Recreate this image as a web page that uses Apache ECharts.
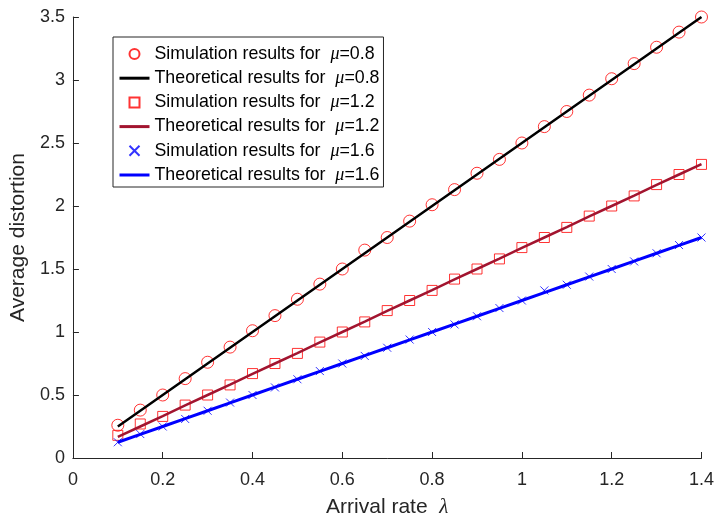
<!DOCTYPE html>
<html><head><meta charset="utf-8">
<script src="https://cdn.jsdelivr.net/npm/echarts@6/dist/echarts.min.js"></script>
<style>html,body{margin:0;padding:0;background:#fff}#c{width:717px;height:523px}</style>
</head><body><div id="c"></div>
<script>
const lambda = [0.1,0.15,0.2,0.25,0.3,0.35,0.4,0.45,0.5,0.55,0.6,0.65,0.7,0.75,0.8,0.85,0.9,0.95,1.0,1.05,1.1,1.15,1.2,1.25,1.3,1.35,1.4];
const sim08 = [0.26,0.38,0.50,0.63,0.76,0.88,1.01,1.13,1.26,1.38,1.50,1.65,1.75,1.88,2.01,2.13,2.26,2.37,2.50,2.63,2.75,2.88,3.01,3.13,3.26,3.38,3.50];
const theo08 = [0.25,0.375,0.5,0.625,0.75,0.875,1.0,1.125,1.25,1.375,1.5,1.625,1.75,1.875,2.0,2.125,2.25,2.375,2.5,2.625,2.75,2.875,3.0,3.125,3.25,3.375,3.5];
const sim12 = [0.18,0.27,0.33,0.42,0.50,0.58,0.67,0.75,0.83,0.92,1.00,1.08,1.17,1.25,1.33,1.42,1.50,1.58,1.67,1.75,1.83,1.92,2.00,2.08,2.17,2.25,2.33];
const theo12 = [0.167,0.25,0.333,0.417,0.5,0.583,0.667,0.75,0.833,0.917,1.0,1.083,1.167,1.25,1.333,1.417,1.5,1.583,1.667,1.75,1.833,1.917,2.0,2.083,2.167,2.25,2.333];
const sim16 = [0.125,0.19,0.25,0.31,0.375,0.44,0.50,0.56,0.625,0.69,0.75,0.81,0.875,0.94,1.00,1.06,1.125,1.19,1.25,1.33,1.375,1.44,1.50,1.56,1.625,1.69,1.75];
const theo16 = [0.125,0.1875,0.25,0.3125,0.375,0.4375,0.5,0.5625,0.625,0.6875,0.75,0.8125,0.875,0.9375,1.0,1.0625,1.125,1.1875,1.25,1.3125,1.375,1.4375,1.5,1.5625,1.625,1.6875,1.75];
const names = ['Simulation results for  μ=0.8','Theoretical results for  μ=0.8','Simulation results for  μ=1.2','Theoretical results for  μ=1.2','Simulation results for  μ=1.6','Theoretical results for  μ=1.6'];

const pairs = a => lambda.map((x,i)=>[x,a[i]]);
const crossPath = 'path://M0,0L10,10M10,0L0,10';
const squarePath = 'path://M0,0L10,0L10,10L0,10Z';
const axisColor = '#262626';
const font = 'Liberation Sans, Arial, sans-serif';
const serif = 'Liberation Serif, DejaVu Serif, serif';
const noSym = {color:'rgba(0,0,0,0)', borderWidth:0, borderColor:'rgba(0,0,0,0)'};

const chart = echarts.init(document.getElementById('c'), null, {renderer:'canvas'});
chart.setOption({
  animation:false,
  backgroundColor:'#fff',
  grid:{left:71,right:12,top:17,bottom:62,containLabel:false},
  legend:{
    orient:'vertical', left:113, top:37,
    backgroundColor:'#fff', borderColor:'#262626', borderWidth:1,
    padding:[8,4,3,5], itemWidth:30, itemHeight:10, itemGap:6.2,
    data:[
      {name:names[0], icon:'circle'},
      {name:names[1], itemStyle:noSym, lineStyle:{width:3}},
      {name:names[2], icon:squarePath},
      {name:names[3], itemStyle:noSym, lineStyle:{width:3}},
      {name:names[4], icon:crossPath},
      {name:names[5], itemStyle:noSym, lineStyle:{width:3}}
    ],
    textStyle:{fontFamily:font,fontSize:17.8,color:'#000',
      rich:{m:{fontFamily:serif,fontStyle:'italic',fontSize:18,color:'#000',lineHeight:18},
            t:{fontFamily:font,fontSize:17.8,color:'#000',lineHeight:18}}},
    formatter: n => { const p = n.split('μ'); return '{t|'+p[0]+'}{m|μ}{t|'+p[1]+'}'; }
  },
  xAxis:{type:'value',min:0,max:1.4,interval:0.2,
    name:'Arrival rate  {l|λ}',nameLocation:'middle',nameGap:39,
    nameTextStyle:{fontFamily:font,fontSize:21,color:axisColor,rich:{l:{fontFamily:serif,fontStyle:'italic',fontSize:21,color:axisColor}}},
    axisLine:{show:true,onZero:false,lineStyle:{color:axisColor,width:1}},
    axisTick:{show:true,inside:true,length:6,lineStyle:{color:axisColor}},
    axisLabel:{fontFamily:font,fontSize:18,color:axisColor,margin:13},
    splitLine:{show:false}},
  yAxis:{type:'value',min:0,max:3.5,interval:0.5,
    name:'Average distortion',nameLocation:'middle',nameGap:40,
    nameTextStyle:{fontFamily:font,fontSize:21,color:axisColor},
    axisLine:{show:true,onZero:false,lineStyle:{color:axisColor,width:1}},
    axisTick:{show:true,inside:true,length:6,lineStyle:{color:axisColor}},
    axisLabel:{fontFamily:font,fontSize:18,color:axisColor,margin:8},
    splitLine:{show:false}},
  series:[
    {name:names[0],type:'scatter',data:pairs(sim08),symbol:'circle',symbolSize:12,
     itemStyle:{color:'rgba(0,0,0,0)',borderColor:'#ff0000',borderWidth:1}},
    {name:names[1],type:'line',data:pairs(theo08),symbol:'none',lineStyle:{color:'#000',width:2.5},itemStyle:{color:'#000'}},
    {name:names[2],type:'scatter',data:pairs(sim12),symbol:'rect',symbolSize:10,
     itemStyle:{color:'rgba(0,0,0,0)',borderColor:'#ff0000',borderWidth:1}},
    {name:names[3],type:'line',data:pairs(theo12),symbol:'none',lineStyle:{color:'#A2142F',width:2.5},itemStyle:{color:'#A2142F'}},
    {name:names[4],type:'scatter',data:pairs(sim16),symbol:crossPath,symbolSize:8,
     itemStyle:{color:'rgba(0,0,0,0)',borderColor:'#0000ff',borderWidth:1}},
    {name:names[5],type:'line',data:pairs(theo16),symbol:'none',lineStyle:{color:'#0000ff',width:3},itemStyle:{color:'#0000ff'}}
  ]
});
</script></body></html>
